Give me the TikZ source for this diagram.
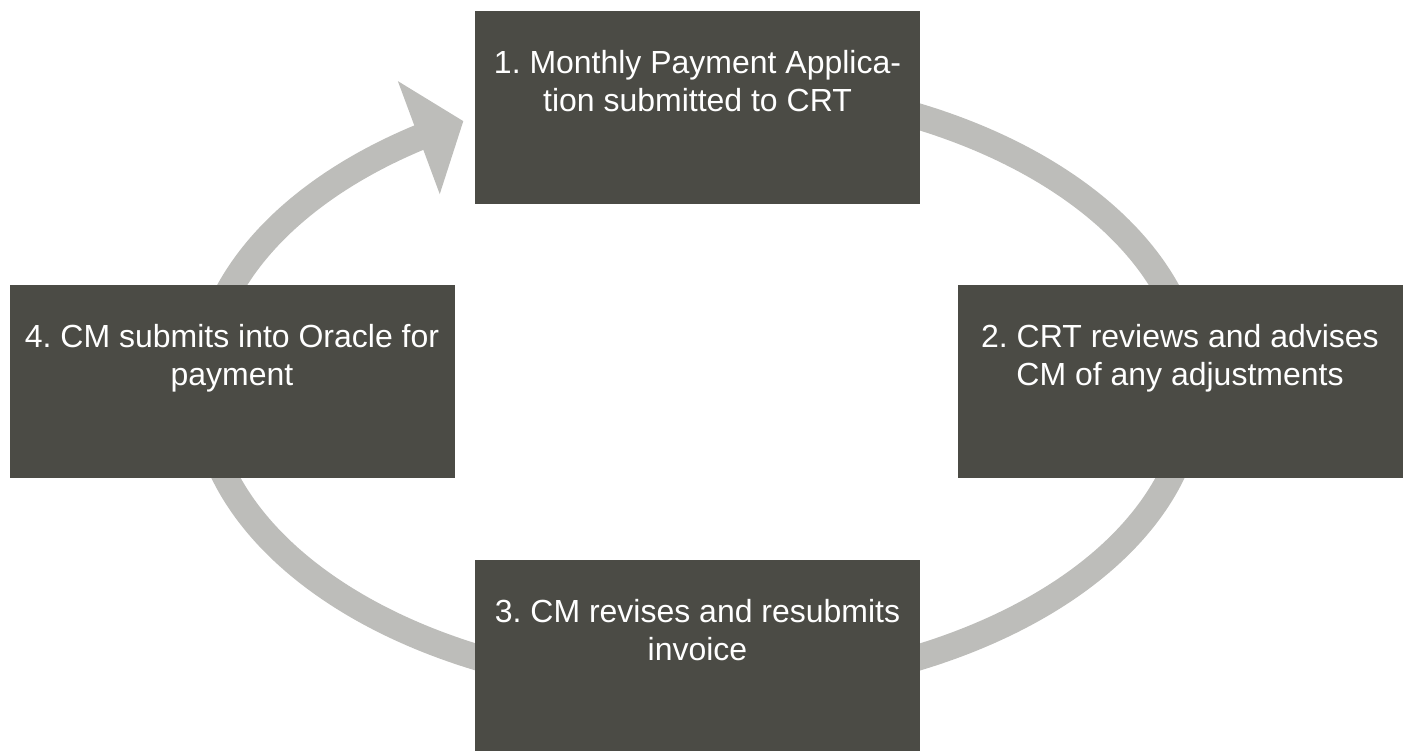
\documentclass[tikz,border=0pt]{standalone}
\usepackage{fontspec}
\setmainfont{Liberation Sans}
\usetikzlibrary{arrows.meta,bending}
\definecolor{ringgray}{RGB}{189,189,186}
\definecolor{boxgray}{RGB}{75,75,69}
\tikzset{
	stage/.style={fill=boxgray, text=white, inner sep=0pt, minimum width=4.45cm, minimum height=1.93cm},
	cycle/.style={draw=ringgray, line width=0.26cm},
}
% text sits at the top of each box
\newcommand{\stagetext}[1]{\parbox[t][1.93cm][t]{4.45cm}{\centering\frenchspacing\fontsize{9.1}{10.8}\selectfont\rule{0pt}{17.8pt}#1}}
\begin{document}
\begin{tikzpicture}[line join=round, >={Triangle[length=0.475cm, width=1.18cm]}]
		\def\rx{4.95} \def\ry{3.02} % radii of the ring
		\useasboundingbox (0,0) rectangle (14.08,7.5);
		\coordinate (hub) at (6.98,3.63);
		\draw[cycle,->] (hub) ++(80:4.95 and 3.02) arc[start angle=80, end angle=-241.7, x radius=\rx, y radius=\ry];
		\node[stage] (s1) at (6.975,6.425) {\stagetext{1. Monthly Payment Applica-\\tion submitted to CRT}};
		\node[stage] (s2) at (11.80,3.685) {\stagetext{2. CRT reviews and advises\\CM of any adjustments}};
		\node[stage] (s3) at (6.975,0.935) {\stagetext{3. CM revises and resubmits\\invoice}};
		\node[stage] (s4) at (2.32,3.685) {\stagetext{4. CM submits into Oracle for\\payment}};
\end{tikzpicture}
\end{document}
